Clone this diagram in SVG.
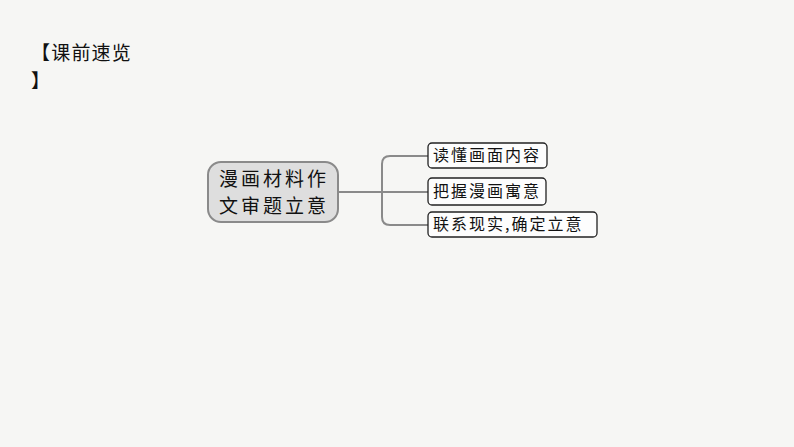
<svg xmlns="http://www.w3.org/2000/svg" width="794" height="447" viewBox="0 0 794 447">
<style>
.t{font-family:"Noto Sans CJK SC","Noto Sans CJK JP",sans-serif;fill:#111}
.box{fill:#fdfdfd;stroke:#222;stroke-width:1.3}
.con{fill:none;stroke:#8a8a8a;stroke-width:2}
</style>
<rect width="794" height="447" fill="#f6f6f4"/>
<g id="title">
<text class="t" x="31" y="60" font-size="19" letter-spacing="1.2">【课前速览</text>
<text class="t" x="31" y="88" font-size="19">】</text>
</g>
<g id="connectors">
<path class="con" d="M338 192 H382"/>
<path class="con" d="M428 156 H390 Q382 156 382 164 V217 Q382 225 390 225 H428"/>
<path class="con" d="M382 192 H428"/>
</g>
<g id="center">
<rect x="208" y="162" width="130" height="60" rx="13" fill="#dedede" stroke="#8a8a8a" stroke-width="2"/>
<text class="t" x="274" y="186" font-size="19" text-anchor="middle" letter-spacing="3">漫画材料作</text>
<text class="t" x="274" y="213" font-size="19" text-anchor="middle" letter-spacing="3">文审题立意</text>
</g>
<g id="n1">
<rect class="box" x="428" y="143" width="119" height="25" rx="4"/>
<text class="t" x="433" y="161" font-size="16" letter-spacing="2">读懂画面内容</text>
</g>
<g id="n2">
<rect class="box" x="428" y="178" width="118" height="27" rx="4"/>
<text class="t" x="433" y="197" font-size="16" letter-spacing="2">把握漫画寓意</text>
</g>
<g id="n3">
<rect class="box" x="428" y="212" width="169" height="25" rx="4"/>
<text class="t" x="433" y="230" font-size="16" letter-spacing="2">联系现实,确定立意</text>
</g>
</svg>
